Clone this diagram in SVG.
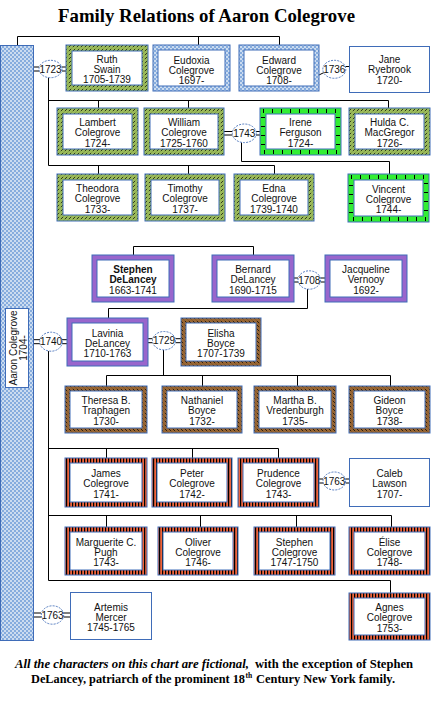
<svg xmlns="http://www.w3.org/2000/svg" width="434" height="718" viewBox="0 0 434 718">
<style>
.ob{stroke:#3F6CB8;stroke-width:1}
.ib{fill:#fff;stroke:#3F6CB8;stroke-width:1}
.pl{fill:#fff;stroke:#3F6CB8;stroke-width:1}
.tk{fill:none;stroke:#000;stroke-width:4;stroke-dasharray:1 8}
.t{font-family:"Liberation Sans",Arial,sans-serif;font-size:10px;fill:#111;text-anchor:middle}
.b{font-weight:bold}
.ov{fill:#fff;stroke:#3F6CB8;stroke-width:0.9;stroke-dasharray:2 1.2}
.ln{fill:none;stroke:#000;stroke-width:1}
.ser{font-family:"Liberation Serif","Times New Roman",serif;font-weight:bold;fill:#000}
</style>
<defs>
<pattern id="pChk" width="4" height="4" patternUnits="userSpaceOnUse"><rect width="4" height="4" fill="#CCDCF0"/><rect width="2" height="2" fill="#86ACDD"/><rect x="2" y="2" width="2" height="2" fill="#86ACDD"/></pattern>
<pattern id="pGreen" width="4" height="4" patternUnits="userSpaceOnUse"><rect width="4" height="4" fill="#9BBB59"/><path d="M0.8 3.2L3.2 0.8" stroke="#000" stroke-width="0.7"/></pattern>
<pattern id="pBrown" width="4" height="4" patternUnits="userSpaceOnUse"><rect width="4" height="4" fill="#996633"/><path d="M0.8 0.8L3.2 3.2" stroke="#000" stroke-width="0.7"/></pattern>
<pattern id="pOrange" width="3" height="3" patternUnits="userSpaceOnUse"><rect width="3" height="3" fill="#F0643C"/><rect width="1.2" height="3" fill="#000"/></pattern>
</defs>

<rect width="434" height="718" fill="#fff"/>
<text class="ser" x="58" y="21.5" font-size="19" textLength="297" lengthAdjust="spacingAndGlyphs">Family Relations of Aaron Colegrove</text>

<g id="connectors" class="ln">
<path d="M17.5 45 V36.5 H279.5 V45 M198.5 36.5 V45"/>
<path d="M48.5 77.5 V165.5 M48.5 100.5 H388.5 V108 M98.5 100.5 V108 M188.5 100.5 V108 M48.5 165.5 H274.5 V174 M98.5 165.5 V174 M188.5 165.5 V174"/>
<path d="M241.5 142.5 V161.5 H389.5 V174"/>
<path d="M133.5 255 V246.5 H253.5 V255"/>
<path d="M307.5 289 V308.5 H108.5 V318"/>
<path d="M48.5 351 V580.5 H390.5 V593"/>
<path d="M48.5 448.5 H278.5 V458 M106.5 448.5 V458 M192.5 448.5 V458"/>
<path d="M48.5 515.5 H391.5 V527 M106.5 515.5 V527 M200.5 515.5 V527 M296.5 515.5 V527"/>
<path d="M163.5 350 V375.5 M106.5 386 V375.5 H390.5 V386 M202.5 375.5 V386 M297.5 375.5 V386"/>
<path d="M33 67 H39 M33 71 H39 M62 67 H66 M62 71 H66"/>
<path d="M319 75 L324 72.5 M345.5 66.5 H349"/>
<path d="M224 131.5 H232.5 M224 135 H232.5 M256 131.5 H260 M256 135 H260"/>
<path d="M294 278 H298 M294 282 H298 M320.5 278 H325 M320.5 282 H325"/>
<path d="M33 339.7 H40 M33 343.7 H40 M62 339.7 H67 M62 343.7 H67"/>
<path d="M148 338.7 H152.5 M148 342.7 H152.5 M175.5 338.7 H181 M175.5 342.7 H181"/>
<path d="M319 479 H323 M319 483 H323 M345.5 479 H349 M345.5 483 H349"/>
<path d="M33 613 H41 M33 617 H41 M63.5 613 H70 M63.5 617 H70"/>
</g>

<g id="aaron">
<rect x="0.5" y="45.5" width="33" height="595" fill="url(#pChk)" class="ob"/>
<rect x="5.5" y="308.5" width="23" height="79" class="ib"/>
<text class="t" transform="translate(16.5 348) rotate(-90)">Aaron Colegrove</text>
<text class="t" transform="translate(26.5 348) rotate(-90)">1704-</text>
</g>

<g id="m1723"><ellipse cx="50.5" cy="69" rx="11.5" ry="8.7" class="ov"/><text class="t" x="50.5" y="72.5">1723</text></g>
<g id="m1736"><ellipse cx="334.3" cy="69.3" rx="11.5" ry="9" class="ov"/><text class="t" x="334.3" y="72.8">1736</text></g>
<g id="m1743"><ellipse cx="244.3" cy="133.3" rx="12" ry="9.3" class="ov"/><text class="t" x="244.3" y="136.8">1743</text></g>
<g id="m1708"><ellipse cx="309.3" cy="280" rx="11.3" ry="9.2" class="ov"/><text class="t" x="309.3" y="283.5">1708</text></g>
<g id="m1740"><ellipse cx="51" cy="341.7" rx="11.3" ry="9.5" class="ov"/><text class="t" x="51" y="345.2">1740</text></g>
<g id="m1729"><ellipse cx="164" cy="340.7" rx="11.5" ry="9.2" class="ov"/><text class="t" x="164" y="344.2">1729</text></g>
<g id="m1763a"><ellipse cx="334.3" cy="481" rx="11.3" ry="9" class="ov"/><text class="t" x="334.3" y="484.5">1763</text></g>
<g id="m1763b"><ellipse cx="52.5" cy="615" rx="11.2" ry="9.2" class="ov"/><text class="t" x="52.5" y="618.5">1763</text></g>

<g id="ruth"><rect x="66" y="45" width="82" height="46" fill="url(#pGreen)" class="ob"/><rect x="72" y="51" width="70" height="34" class="ib"/>
<text class="t" x="107"><tspan x="107" y="62.5">Ruth</tspan><tspan x="107" y="72.8">Swain</tspan><tspan x="107" y="83.1">1705-1739</tspan></text></g>
<g id="eudoxia"><rect x="153" y="45" width="77" height="46" fill="url(#pChk)" class="ob"/><rect x="158" y="50" width="67" height="36" class="ib"/>
<text class="t"><tspan x="191.5" y="63.5">Eudoxia</tspan><tspan x="191.5" y="73.8">Colegrove</tspan><tspan x="191.5" y="84.1">1697-</tspan></text></g>
<g id="edward"><rect x="239" y="45" width="80" height="46" fill="url(#pChk)" class="ob"/><rect x="244" y="50" width="70" height="36" class="ib"/>
<text class="t"><tspan x="279" y="63.5">Edward</tspan><tspan x="279" y="73.8">Colegrove</tspan><tspan x="279" y="84.1">1708-</tspan></text></g>
<g id="jane"><rect x="349.5" y="46.5" width="80" height="46" class="pl"/>
<text class="t"><tspan x="389.5" y="63">Jane</tspan><tspan x="389.5" y="73.3">Ryebrook</tspan><tspan x="389.5" y="83.6">1720-</tspan></text></g>

<g id="lambert"><rect x="57" y="108" width="81" height="47" fill="url(#pGreen)" class="ob"/><rect x="63" y="114" width="69" height="35" class="ib"/>
<text class="t"><tspan x="97.5" y="126">Lambert</tspan><tspan x="97.5" y="136.3">Colegrove</tspan><tspan x="97.5" y="146.6">1724-</tspan></text></g>
<g id="william"><rect x="144" y="108" width="80" height="47" fill="url(#pGreen)" class="ob"/><rect x="150" y="114" width="68" height="35" class="ib"/>
<text class="t"><tspan x="184" y="126">William</tspan><tspan x="184" y="136.3">Colegrove</tspan><tspan x="184" y="146.6">1725-1760</tspan></text></g>
<g id="irene"><rect x="260" y="108" width="81" height="47" fill="#33EE33" class="ob"/><rect x="263" y="111" width="75" height="41" class="tk"/><rect x="266" y="114" width="69" height="35" class="ib"/>
<text class="t"><tspan x="300.5" y="126">Irene</tspan><tspan x="300.5" y="136.3">Ferguson</tspan><tspan x="300.5" y="146.6">1724-</tspan></text></g>
<g id="hulda"><rect x="349" y="108" width="81" height="47" fill="url(#pGreen)" class="ob"/><rect x="355" y="114" width="69" height="35" class="ib"/>
<text class="t"><tspan x="389.5" y="126">Hulda C.</tspan><tspan x="389.5" y="136.3">MacGregor</tspan><tspan x="389.5" y="146.6">1726-</tspan></text></g>

<g id="theodora"><rect x="57" y="174" width="81" height="47" fill="url(#pGreen)" class="ob"/><rect x="63" y="180" width="69" height="35" class="ib"/>
<text class="t"><tspan x="97.5" y="192">Theodora</tspan><tspan x="97.5" y="202.3">Colegrove</tspan><tspan x="97.5" y="212.6">1733-</tspan></text></g>
<g id="timothy"><rect x="145" y="174" width="80" height="47" fill="url(#pGreen)" class="ob"/><rect x="151" y="180" width="68" height="35" class="ib"/>
<text class="t"><tspan x="185" y="192">Timothy</tspan><tspan x="185" y="202.3">Colegrove</tspan><tspan x="185" y="212.6">1737-</tspan></text></g>
<g id="edna"><rect x="234" y="174" width="80" height="47" fill="url(#pGreen)" class="ob"/><rect x="240" y="180" width="68" height="35" class="ib"/>
<text class="t"><tspan x="274" y="192">Edna</tspan><tspan x="274" y="202.3">Colegrove</tspan><tspan x="274" y="212.6">1739-1740</tspan></text></g>
<g id="vincent"><rect x="348" y="174" width="81" height="48" fill="#33EE33" class="ob"/><rect x="351" y="177" width="75" height="42" class="tk"/><rect x="354" y="180" width="69" height="36" class="ib"/>
<text class="t"><tspan x="388.5" y="192.5">Vincent</tspan><tspan x="388.5" y="202.8">Colegrove</tspan><tspan x="388.5" y="213.1">1744-</tspan></text></g>

<g id="stephen-delancey"><rect x="92" y="255" width="82" height="47" fill="#9966CC" class="ob"/><rect x="97" y="260" width="72" height="37" class="ib"/>
<text class="t"><tspan x="133" y="273" class="b">Stephen</tspan><tspan x="133" y="283.3" class="b">DeLancey</tspan><tspan x="133" y="293.6">1663-1741</tspan></text></g>
<g id="bernard"><rect x="212" y="255" width="82" height="47" fill="#9966CC" class="ob"/><rect x="217" y="260" width="72" height="37" class="ib"/>
<text class="t"><tspan x="253" y="273">Bernard</tspan><tspan x="253" y="283.3">DeLancey</tspan><tspan x="253" y="293.6">1690-1715</tspan></text></g>
<g id="jacqueline"><rect x="325" y="255" width="82" height="47" fill="#9966CC" class="ob"/><rect x="330" y="260" width="72" height="37" class="ib"/>
<text class="t"><tspan x="366" y="273">Jacqueline</tspan><tspan x="366" y="283.3">Vernooy</tspan><tspan x="366" y="293.6">1692-</tspan></text></g>

<g id="lavinia"><rect x="67" y="318" width="81" height="48" fill="#9966CC" class="ob"/><rect x="72" y="323" width="71" height="38" class="ib"/>
<text class="t"><tspan x="107.5" y="336.5">Lavinia</tspan><tspan x="107.5" y="346.8">DeLancey</tspan><tspan x="107.5" y="357.1">1710-1763</tspan></text></g>
<g id="elisha"><rect x="181" y="318" width="80" height="48" fill="url(#pBrown)" class="ob"/><rect x="186" y="323" width="70" height="38" class="ib"/>
<text class="t"><tspan x="221" y="336.5">Elisha</tspan><tspan x="221" y="346.8">Boyce</tspan><tspan x="221" y="357.1">1707-1739</tspan></text></g>

<g id="theresa"><rect x="65" y="386" width="82" height="47" fill="url(#pBrown)" class="ob"/><rect x="70" y="391" width="72" height="37" class="ib"/>
<text class="t"><tspan x="106" y="404">Theresa B.</tspan><tspan x="106" y="414.3">Traphagen</tspan><tspan x="106" y="424.6">1730-</tspan></text></g>
<g id="nathaniel"><rect x="162" y="386" width="80" height="47" fill="url(#pBrown)" class="ob"/><rect x="167" y="391" width="70" height="37" class="ib"/>
<text class="t"><tspan x="202" y="404">Nathaniel</tspan><tspan x="202" y="414.3">Boyce</tspan><tspan x="202" y="424.6">1732-</tspan></text></g>
<g id="martha"><rect x="254" y="386" width="82" height="47" fill="url(#pBrown)" class="ob"/><rect x="259" y="391" width="72" height="37" class="ib"/>
<text class="t"><tspan x="295" y="404">Martha B.</tspan><tspan x="295" y="414.3">Vredenburgh</tspan><tspan x="295" y="424.6">1735-</tspan></text></g>
<g id="gideon"><rect x="349" y="386" width="81" height="47" fill="url(#pBrown)" class="ob"/><rect x="354" y="391" width="71" height="37" class="ib"/>
<text class="t"><tspan x="389.5" y="404">Gideon</tspan><tspan x="389.5" y="414.3">Boyce</tspan><tspan x="389.5" y="424.6">1738-</tspan></text></g>

<g id="james"><rect x="65" y="458" width="82" height="49" fill="url(#pOrange)" class="ob"/><rect x="70" y="463" width="72" height="39" class="ib"/>
<text class="t"><tspan x="106" y="477">James</tspan><tspan x="106" y="487.3">Colegrove</tspan><tspan x="106" y="497.6">1741-</tspan></text></g>
<g id="peter"><rect x="152" y="458" width="80" height="49" fill="url(#pOrange)" class="ob"/><rect x="157" y="463" width="70" height="39" class="ib"/>
<text class="t"><tspan x="192" y="477">Peter</tspan><tspan x="192" y="487.3">Colegrove</tspan><tspan x="192" y="497.6">1742-</tspan></text></g>
<g id="prudence"><rect x="238" y="458" width="81" height="49" fill="url(#pOrange)" class="ob"/><rect x="243" y="463" width="71" height="39" class="ib"/>
<text class="t"><tspan x="278.5" y="477">Prudence</tspan><tspan x="278.5" y="487.3">Colegrove</tspan><tspan x="278.5" y="497.6">1743-</tspan></text></g>
<g id="caleb"><rect x="349.5" y="458.5" width="80" height="48" class="pl"/>
<text class="t"><tspan x="389.5" y="477">Caleb</tspan><tspan x="389.5" y="487.3">Lawson</tspan><tspan x="389.5" y="497.6">1707-</tspan></text></g>

<g id="marguerite"><rect x="65" y="527" width="82" height="48" fill="url(#pOrange)" class="ob"/><rect x="70" y="532" width="72" height="38" class="ib"/>
<text class="t"><tspan x="106" y="545.5">Marguerite C.</tspan><tspan x="106" y="555.8">Pugh</tspan><tspan x="106" y="566.1">1743-</tspan></text></g>
<g id="oliver"><rect x="158" y="527" width="80" height="48" fill="url(#pOrange)" class="ob"/><rect x="163" y="532" width="70" height="38" class="ib"/>
<text class="t"><tspan x="198" y="545.5">Oliver</tspan><tspan x="198" y="555.8">Colegrove</tspan><tspan x="198" y="566.1">1746-</tspan></text></g>
<g id="stephen-colegrove"><rect x="254" y="527" width="81" height="48" fill="url(#pOrange)" class="ob"/><rect x="259" y="532" width="71" height="38" class="ib"/>
<text class="t"><tspan x="294.5" y="545.5">Stephen</tspan><tspan x="294.5" y="555.8">Colegrove</tspan><tspan x="294.5" y="566.1">1747-1750</tspan></text></g>
<g id="elise"><rect x="349" y="527" width="81" height="48" fill="url(#pOrange)" class="ob"/><rect x="354" y="532" width="71" height="38" class="ib"/>
<text class="t"><tspan x="389.5" y="545.5">Élise</tspan><tspan x="389.5" y="555.8">Colegrove</tspan><tspan x="389.5" y="566.1">1748-</tspan></text></g>

<g id="artemis"><rect x="70.5" y="592.5" width="81" height="47" class="pl"/>
<text class="t"><tspan x="111" y="610.5">Artemis</tspan><tspan x="111" y="620.8">Mercer</tspan><tspan x="111" y="631.1">1745-1765</tspan></text></g>
<g id="agnes"><rect x="349" y="593" width="81" height="47" fill="url(#pOrange)" class="ob"/><rect x="354" y="598" width="71" height="37" class="ib"/>
<text class="t"><tspan x="389.5" y="611">Agnes</tspan><tspan x="389.5" y="621.3">Colegrove</tspan><tspan x="389.5" y="631.6">1753-</tspan></text></g>

<g id="footnote">
<text class="ser" x="15" y="668.3" font-size="11.5" font-style="italic" textLength="234" lengthAdjust="spacingAndGlyphs">All the characters on this chart are fictional,</text>
<text class="ser" x="255" y="668.3" font-size="11.5" textLength="158" lengthAdjust="spacingAndGlyphs">with the exception of Stephen</text>
<text class="ser" x="31" y="683.3" font-size="11.5" textLength="214" lengthAdjust="spacingAndGlyphs">DeLancey, patriarch of the prominent 18</text>
<text class="ser" x="245.5" y="678" font-size="7.5">th</text>
<text class="ser" x="256" y="683.3" font-size="11.5" textLength="139" lengthAdjust="spacingAndGlyphs">Century New York family.</text>
</g>
</svg>
